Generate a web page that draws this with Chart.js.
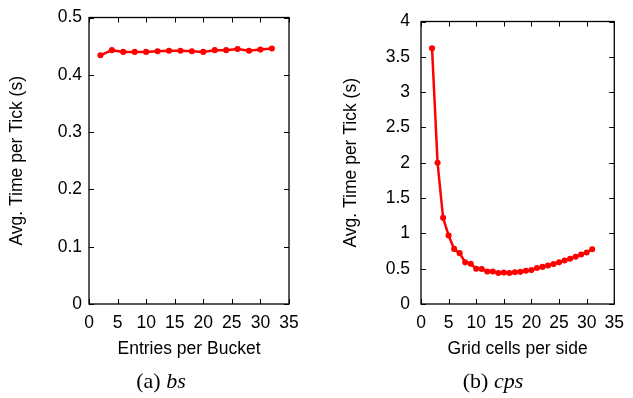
<!DOCTYPE html>
<html>
<head>
<meta charset="utf-8">
<script src="https://cdn.jsdelivr.net/npm/chart.js@4/dist/chart.umd.min.js"></script>
<style>
  body { margin: 0; background: #fff; }
  .wrap { position: absolute; top: 0; height: 398px; }
  .cap { position: absolute; font-family: 'Liberation Serif', 'DejaVu Serif', serif; font-size: 22px; color: #000; transform: translate(-50%, -50%); white-space: nowrap; }
</style>
</head>
<body>
<div class="wrap" style="left:0;width:316px"><canvas id="chartA"></canvas></div>
<div class="wrap" style="left:316px;width:317px"><canvas id="chartB"></canvas></div>
<div class="cap" style="left:161px;top:381px">(a) <i>bs</i></div>
<div class="cap" style="left:493px;top:381px">(b) <i>cps</i></div>
<script>
// (a) entries per bucket
const bucketSizes = [2, 4, 6, 8, 10, 12, 14, 16, 18, 20, 22, 24, 26, 28, 30, 32];
const bucketTimes = [0.434, 0.443, 0.440, 0.440, 0.440, 0.441, 0.442, 0.442, 0.441, 0.440, 0.443, 0.443, 0.445, 0.442, 0.444, 0.446];

// (b) grid cells per side
const gridCells = [2, 3, 4, 5, 6, 7, 8, 9, 10, 11, 12, 13, 14, 15, 16, 17, 18, 19, 20, 21, 22, 23, 24, 25, 26, 27, 28, 29, 30, 31];
const gridTimes = [3.62, 2.0, 1.22, 0.97, 0.78, 0.72, 0.59, 0.57, 0.5, 0.495, 0.46, 0.46, 0.44, 0.445, 0.44, 0.45, 0.455, 0.47, 0.48, 0.51, 0.525, 0.545, 0.565, 0.59, 0.615, 0.64, 0.67, 0.7, 0.73, 0.775];

const xTicks = [0, 5, 10, 15, 20, 25, 30, 35];
const yTicksA = [0, 0.1, 0.2, 0.3, 0.4, 0.5];
const yTicksB = [0, 0.5, 1, 1.5, 2, 2.5, 3, 3.5, 4];

const FONT = "'Liberation Sans', Arial, sans-serif";

// gnuplot-like box with inward ticks on all four sides
const boxTicks = {
    id: 'boxTicks',
    afterDraw(chart) {
        const { ctx, chartArea: a, scales } = chart;
        const len = 5;
        ctx.save();
        ctx.strokeStyle = '#000';
        ctx.lineWidth = 1;
        ctx.beginPath();
        scales.x.ticks.forEach(t => {
            const px = Math.round(scales.x.getPixelForValue(t.value)) + 0.5;
            ctx.moveTo(px, a.bottom); ctx.lineTo(px, a.bottom - len);
            ctx.moveTo(px, a.top); ctx.lineTo(px, a.top + len);
        });
        scales.y.ticks.forEach(t => {
            const py = Math.round(scales.y.getPixelForValue(t.value)) + 0.5;
            ctx.moveTo(a.left, py); ctx.lineTo(a.left + len, py);
            ctx.moveTo(a.right, py); ctx.lineTo(a.right - len, py);
        });
        ctx.stroke();
        ctx.lineWidth = 1.3;
        ctx.strokeRect(a.left, a.top, a.right - a.left, a.bottom - a.top);
        ctx.restore();
    }
};

function makeChart(id, xs, ys, yTicks, yMax, opts) {
    return new Chart(document.getElementById(id), {
        type: 'line',
        data: {
            datasets: [{
                data: xs.map((x, i) => ({ x: x, y: ys[i] })),
                borderColor: '#ff0000',
                backgroundColor: '#ff0000',
                borderWidth: 2.5,
                pointRadius: 1.8,
                pointHoverRadius: 1.8,
                tension: 0
            }]
        },
        options: {
            responsive: true,
            maintainAspectRatio: false,
            animation: false,
            events: [],
            layout: { padding: { left: 0, top: 11, right: opts.padRight, bottom: 0 } },
            plugins: { legend: { display: false }, tooltip: { enabled: false } },
            scales: {
                x: {
                    type: 'linear',
                    min: 0,
                    max: 35,
                    afterBuildTicks: s => { s.ticks = xTicks.map(v => ({ value: v })); },
                    afterFit: s => { s.height = 94; },
                    grid: { display: false, drawTicks: false },
                    border: { display: false },
                    ticks: { color: '#000', font: { family: FONT, size: 17.5 }, padding: 9, maxRotation: 0, callback: v => String(v) },
                    title: { display: true, text: opts.xTitle, color: '#000', font: { family: FONT, size: 17.5 }, padding: { top: 0, bottom: 38 } }
                },
                y: {
                    min: 0,
                    max: yMax,
                    afterBuildTicks: s => { s.ticks = yTicks.map(v => ({ value: v })); },
                    afterFit: s => { s.width = opts.yWidth; },
                    grid: { display: false, drawTicks: false },
                    border: { display: false },
                    ticks: { color: '#000', font: { family: FONT, size: 17.5 }, padding: opts.yPad, callback: v => String(v) },
                    title: { display: true, text: 'Avg. Time per Tick (s)', color: '#000', font: { family: FONT, size: 17.5 }, padding: { top: opts.yTitlePad, bottom: 0 } }
                }
            }
        },
        plugins: [boxTicks]
    });
}

makeChart('chartA', bucketSizes, bucketTimes, yTicksA, 0.5,
    { xTitle: 'Entries per Bucket', padRight: 27, yWidth: 89, yPad: 7, yTitlePad: 7 });
makeChart('chartB', gridCells, gridTimes, yTicksB, 4,
    { xTitle: 'Grid cells per side', padRight: 14, yWidth: 105, yPad: 11, yTitlePad: 25 });
</script>
</body>
</html>
